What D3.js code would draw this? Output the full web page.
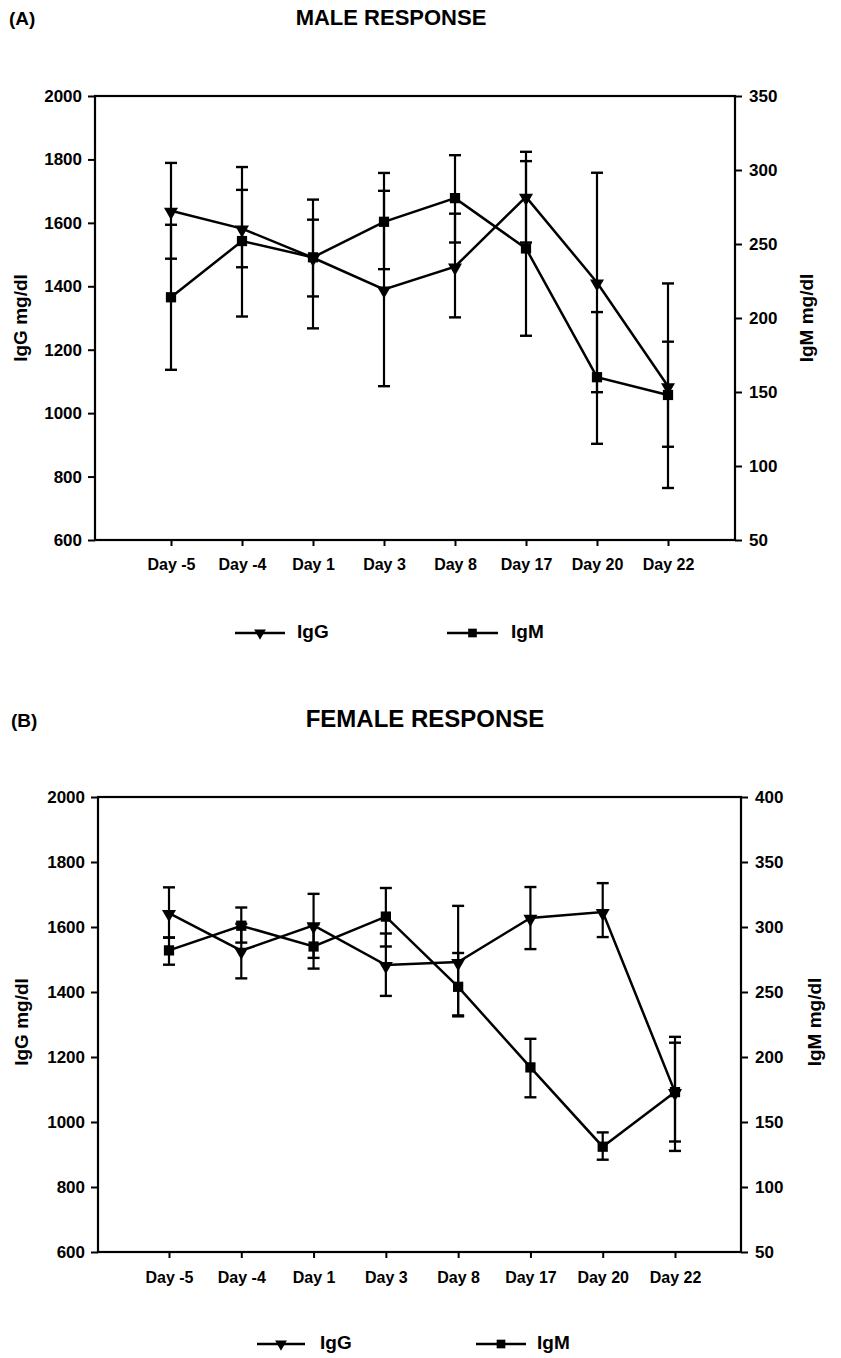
<!DOCTYPE html>
<html>
<head>
<meta charset="utf-8">
<script src="https://cdn.jsdelivr.net/npm/d3@7"></script>
<style>
  html, body { margin: 0; padding: 0; background: #fff; }
  svg { display: block; }
  text { font-family: "Liberation Sans", Arial, Helvetica, sans-serif; font-weight: bold; fill: #000; }
</style>
</head>
<body>
<svg id="chart" width="841" height="1358"></svg>
<script>
// ---------- data ----------
const days = ["Day -5", "Day -4", "Day 1", "Day 3", "Day 8", "Day 17", "Day 20", "Day 22"];
const legendLabels = ["IgG", "IgM"];

const leftTicks = [600, 800, 1000, 1200, 1400, 1600, 1800, 2000];
const maleRightTicks = [50, 100, 150, 200, 250, 300, 350];
const femaleRightTicks = [50, 100, 150, 200, 250, 300, 350, 400];

// (A) male response
const maleIgG     = [1638, 1582, 1490, 1390, 1462, 1682, 1412, 1085];
const maleIgGLow  = [1487, 1460, 1368, 1085, 1302, 1538, 1066, 764];
const maleIgGHigh = [1789, 1704, 1610, 1701, 1629, 1824, 1758, 1409];
const maleIgM     = [214, 252, 241, 265, 281, 247, 160, 148];
const maleIgMLow  = [165, 201, 193, 233, 251, 188, 115, 113];
const maleIgMHigh = [263, 302, 280, 298, 310, 306, 204, 184];

// (B) female response
const femaleIgG     = [1643, 1527, 1605, 1483, 1492, 1628, 1646, 1092];
const femaleIgGLow  = [1567, 1442, 1505, 1388, 1325, 1532, 1569, 911];
const femaleIgGHigh = [1722, 1610, 1702, 1580, 1665, 1723, 1735, 1262];
const femaleIgM     = [282, 301, 285, 308, 254, 192, 131, 173];
const femaleIgMLow  = [271, 288, 268, 285, 232, 169, 121, 135];
const femaleIgMHigh = [292, 315, 302, 330, 280, 214, 142, 211];

// ---------- drawing ----------
const svg = d3.select("#chart");

function panel(cfg) {
  const g = svg.append("g");
  const x = d3.scalePoint().domain(days).range([cfg.x0, cfg.x1]);
  const yL = d3.scaleLinear().domain([600, 2000]).range([cfg.bottom, cfg.top]);
  const yR = d3.scaleLinear().domain([50, cfg.rightMax]).range([cfg.bottom, cfg.top]);

  // letter + title
  g.append("text").attr("x", cfg.letterX).attr("y", cfg.titleY)
    .style("font-size", "19px").text(cfg.letter);
  g.append("text").attr("x", cfg.titleX).attr("y", cfg.titleY)
    .attr("text-anchor", "middle").style("font-size", cfg.titleSize + "px").text(cfg.title);

  // frame
  g.append("rect").attr("x", cfg.left).attr("y", cfg.top)
    .attr("width", cfg.right - cfg.left).attr("height", cfg.bottom - cfg.top)
    .attr("fill", "none").attr("stroke", "#000").attr("stroke-width", 2.2);

  // axes
  const axL = g.append("g").attr("transform", `translate(${cfg.left},0)`)
    .call(d3.axisLeft(yL).tickValues(leftTicks).tickFormat(d3.format("d")).tickSize(7).tickPadding(6));
  const axR = g.append("g").attr("transform", `translate(${cfg.right},0)`)
    .call(d3.axisRight(yR).tickValues(cfg.rightTicks).tickFormat(d3.format("d")).tickSize(7).tickPadding(7));
  const axB = g.append("g").attr("transform", `translate(0,${cfg.bottom})`)
    .call(d3.axisBottom(x).tickSize(6).tickPadding(0));
  [axL, axR, axB].forEach(a => {
    a.select(".domain").remove();
    a.selectAll(".tick line").attr("stroke", "#000").attr("stroke-width", 2);
    a.selectAll("text").attr("fill", "#000")
      .style("font-family", '"Liberation Sans", Arial, sans-serif')
      .style("font-weight", "bold").style("font-size", "17px");
  });
  axB.selectAll("text").attr("dy", null).attr("y", cfg.xLabelY - cfg.bottom)
    .attr("dominant-baseline", "middle").style("font-size", "16px");

  // axis titles
  g.append("text").attr("transform", `translate(${cfg.yLabelLX},${cfg.yLabelY}) rotate(-90)`)
    .attr("text-anchor", "middle").attr("dominant-baseline", "middle")
    .style("font-size", "19px").text("IgG mg/dl");
  g.append("text").attr("transform", `translate(${cfg.yLabelRX},${cfg.yLabelY}) rotate(-90)`)
    .attr("text-anchor", "middle").attr("dominant-baseline", "middle")
    .style("font-size", "19px").text("IgM mg/dl");

  // series
  const series = [
    { vals: cfg.igg, lo: cfg.iggLo, hi: cfg.iggHi, y: yL, sym: "tri" },
    { vals: cfg.igm, lo: cfg.igmLo, hi: cfg.igmHi, y: yR, sym: "sq" }
  ];
  const capW = 6;
  series.forEach(s => {
    const eb = g.append("g");
    days.forEach((d, i) => {
      const cx = x(d);
      eb.append("line").attr("x1", cx).attr("x2", cx)
        .attr("y1", s.y(s.lo[i])).attr("y2", s.y(s.hi[i]))
        .attr("stroke", "#000").attr("stroke-width", 2.2);
      [s.lo[i], s.hi[i]].forEach(v => {
        eb.append("line").attr("x1", cx - capW).attr("x2", cx + capW)
          .attr("y1", s.y(v)).attr("y2", s.y(v))
          .attr("stroke", "#000").attr("stroke-width", 2.4);
      });
    });
  });
  series.forEach(s => {
    const line = d3.line().x((v, i) => x(days[i])).y(v => s.y(v));
    g.append("path").datum(s.vals).attr("d", line)
      .attr("fill", "none").attr("stroke", "#000").attr("stroke-width", 2.5);
    const sym = s.sym === "tri"
      ? d3.symbol().type(d3.symbolTriangle).size(85)
      : d3.symbol().type(d3.symbolSquare).size(105);
    g.selectAll(null).data(s.vals).enter().append("path")
      .attr("d", sym)
      .attr("transform", (v, i) => `translate(${x(days[i])},${s.y(v) + (s.sym === "tri" ? 1 : 0)})` + (s.sym === "tri" ? " rotate(180)" : ""))
      .attr("fill", "#000");
  });

  // legend
  cfg.legend.forEach((L, k) => {
    g.append("line").attr("x1", L.x1).attr("x2", L.x2).attr("y1", cfg.legendY).attr("y2", cfg.legendY)
      .attr("stroke", "#000").attr("stroke-width", 2.5);
    const sym = k === 0
      ? d3.symbol().type(d3.symbolTriangle).size(60)
      : d3.symbol().type(d3.symbolSquare).size(75);
    g.append("path").attr("d", sym)
      .attr("transform", `translate(${(L.x1 + L.x2) / 2},${cfg.legendY}) rotate(${k === 0 ? 180 : 0})`)
      .attr("fill", "#000");
    g.append("text").attr("x", L.tx).attr("y", cfg.legendY).attr("dominant-baseline", "middle")
      .style("font-size", "19px").text(legendLabels[k]);
  });
}

panel({
  letter: "(A)", letterX: 9, title: "MALE RESPONSE", titleX: 391, titleY: 25, titleSize: 22,
  left: 95, right: 735, top: 96, bottom: 540, x0: 171, x1: 668,
  rightMax: 350, rightTicks: maleRightTicks, xLabelY: 566,
  yLabelLX: 22, yLabelRX: 808, yLabelY: 318,
  igg: maleIgG, iggLo: maleIgGLow, iggHi: maleIgGHigh,
  igm: maleIgM, igmLo: maleIgMLow, igmHi: maleIgMHigh,
  legendY: 633,
  legend: [{ x1: 235, x2: 285, tx: 297 }, { x1: 447, x2: 498, tx: 511 }]
});

panel({
  letter: "(B)", letterX: 11, title: "FEMALE RESPONSE", titleX: 425, titleY: 727, titleSize: 24,
  left: 98, right: 741, top: 797, bottom: 1252, x0: 169, x1: 675,
  rightMax: 400, rightTicks: femaleRightTicks, xLabelY: 1279,
  yLabelLX: 23, yLabelRX: 816, yLabelY: 1022,
  igg: femaleIgG, iggLo: femaleIgGLow, iggHi: femaleIgGHigh,
  igm: femaleIgM, igmLo: femaleIgMLow, igmHi: femaleIgMHigh,
  legendY: 1344,
  legend: [{ x1: 257, x2: 305, tx: 320 }, { x1: 476, x2: 526, tx: 537 }]
});
</script>
</body>
</html>
